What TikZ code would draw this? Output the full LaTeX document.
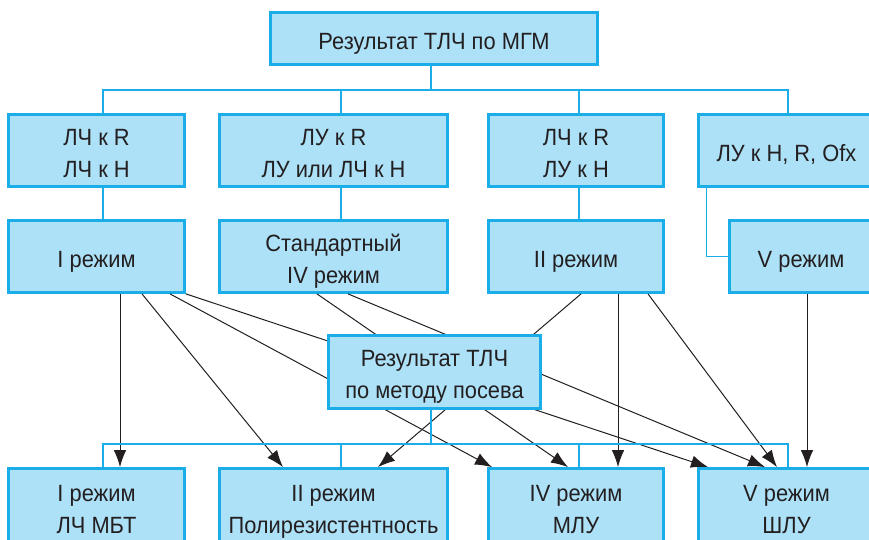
\documentclass[tikz,border=0pt]{standalone}
\usepackage{fontspec}
\setmainfont[FakeStretch=0.93]{Liberation Sans}
\usetikzlibrary{arrows.meta}
\definecolor{boxfill}{HTML}{ADE1F8}
\definecolor{boxline}{HTML}{1BADE8}
\definecolor{ink}{HTML}{231F20}
\newcommand{\bxt}[1]{\raisebox{-4.5pt}[\height][\depth]{\begin{tabular}{@{}c@{}}#1\end{tabular}}}
\tikzset{
  box/.style={draw=boxline, fill=boxfill, line width=2.8pt, inner sep=0pt,
    text=ink, font=\fontsize{23.5}{32}\selectfont},
  tree/.style={draw=boxline, line width=1.3pt},
  arr/.style={draw=ink, line width=1pt, -{Latex[length=17pt,width=12.5pt]}}
}
\begin{document}
\begin{tikzpicture}[x=1pt,y=-1pt]
\useasboundingbox (0,0) rectangle (869,540);
\clip (0,0) rectangle (869,540);
% columns and buses
\coordinate (col0) at (431,0);
\coordinate (col1) at (103,0);
\coordinate (col2) at (341,0);
\coordinate (col3) at (579,0);
\coordinate (col4) at (788,0);
\coordinate (bus1) at (0,90);
\coordinate (bus2) at (0,444);
% boxes
\node[box, minimum width=327pt, minimum height=52pt] (top) at (434,38.5) {\bxt{Результат ТЛЧ по МГМ}};
\node[box, minimum width=176pt, minimum height=72pt] (a1) at (96.5,150.5) {\bxt{ЛЧ к R\\ЛЧ к Н}};
\node[box, minimum width=228pt, minimum height=72pt] (a2) at (333.5,150.5) {\bxt{ЛУ к R\\ЛУ или ЛЧ к Н}};
\node[box, minimum width=175pt, minimum height=72pt] (a3) at (576,150.5) {\bxt{ЛЧ к R\\ЛУ к Н}};
\node[box, minimum width=176pt, minimum height=72pt] (a4) at (786.5,150.5) {\bxt{ЛУ к Н, R, Ofx}};
\node[box, minimum width=176pt, minimum height=72pt] (b1) at (96.5,256.5) {\bxt{I режим}};
\node[box, minimum width=228pt, minimum height=72pt] (b2) at (333.5,256.5) {\bxt{Стандартный\\IV режим}};
\node[box, minimum width=175pt, minimum height=72pt] (b3) at (576,256.5) {\bxt{II режим}};
\node[box, minimum width=143pt, minimum height=72pt] (b4) at (801,256.5) {\bxt{V режим}};
\node[box, minimum width=176pt, minimum height=76pt] (c1) at (96.5,506.5) {\bxt{I режим\\ЛЧ МБТ}};
\node[box, minimum width=228pt, minimum height=76pt] (c2) at (333.5,506.5) {\bxt{II режим\\Полирезистентность}};
\node[box, minimum width=175pt, minimum height=76pt] (c3) at (576,506.5) {\bxt{IV режим\\МЛУ}};
\node[box, minimum width=176pt, minimum height=76pt] (c4) at (786.5,506.5) {\bxt{V режим\\ШЛУ}};
% top tree
\draw[tree] (col0 |- top.south) -- (col0 |- bus1);
\draw[tree] (col1 |- a1.north) |- (bus1 -| col4) -- (col4 |- a4.north);
\draw[tree] (col2 |- bus1) -- (col2 |- a2.north);
\draw[tree] (col3 |- bus1) -- (col3 |- a3.north);
\draw[tree] (col1 |- a1.south) -- (col1 |- b1.north);
\draw[tree] (col2 |- a2.south) -- (col2 |- b2.north);
\draw[tree] (col3 |- a3.south) -- (col3 |- b3.north);
\draw[tree] ([xshift=-80pt]a4.south) |- (b4.west);
% arrows
\draw[arr] ([xshift=23.5pt]b1.south) -- ([xshift=23.5pt]c1.north);
\draw[arr] ([xshift=45.5pt]b1.south) -- ([xshift=-50.5pt]c2.north);
\draw[arr] ([xshift=73.5pt]b1.south) -- ([xshift=-84pt]c3.north);
\draw[arr] (b1.south east) -- ([xshift=-78.5pt]c4.north);
\draw[arr] ([xshift=-16.5pt]b2.south) -- ([xshift=-8pt]c3.north);
\draw[arr] ([xshift=14.5pt]b2.south) -- ([xshift=-21.5pt]c4.north);
\draw[arr] ([xshift=5pt]b3.south) -- ([xshift=44.5pt]c2.north);
\draw[arr] ([xshift=42pt]b3.south) -- ([xshift=42pt]c3.north);
\draw[arr] ([xshift=72pt]b3.south) -- ([xshift=-9.5pt]c4.north);
\draw[arr] ([xshift=6pt]b4.south) -- ([xshift=20.5pt]c4.north);
% centre box and bottom tree
\node[box, minimum width=212pt, minimum height=73pt] (ctr) at (434.5,372) {\bxt{Результат ТЛЧ\\по методу посева}};
\draw[tree] (col0 |- ctr.south) -- (col0 |- bus2);
\draw[tree] (col1 |- c1.north) |- (bus2 -| col4) -- (col4 |- c4.north);
\draw[tree] (col2 |- bus2) -- (col2 |- c2.north);
\draw[tree] (col3 |- bus2) -- (col3 |- c3.north);
\end{tikzpicture}
\end{document}
